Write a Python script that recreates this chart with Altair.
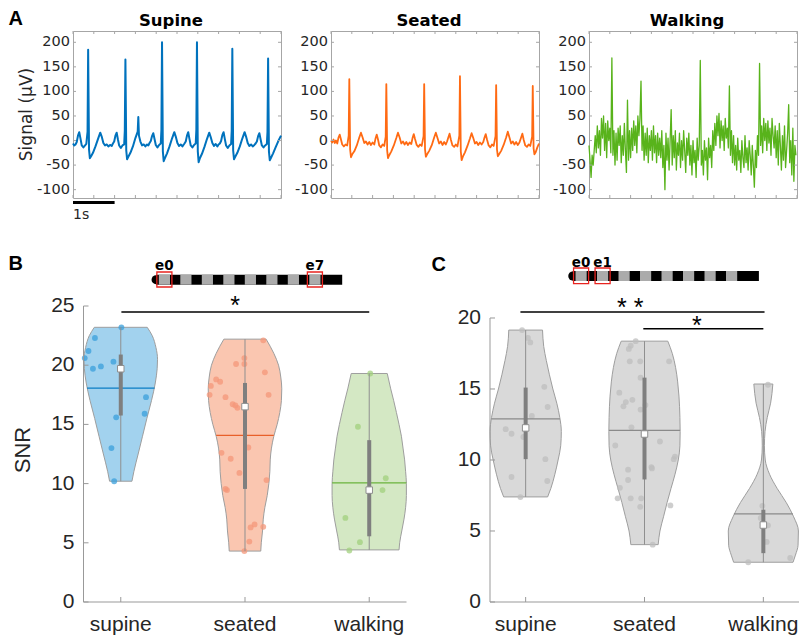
import altair as alt
import pandas as pd

FONT_A = "DejaVu Sans"
FONT_B = "Liberation Sans"
TXT = "#262626"
BOX = "#A6A6A6"
AX = "#999999"

# ---------------- Panel A : raw signals (time s, amplitude uV) ----------------
SIG_TITLES = ["Supine", "Seated", "Walking"]
SIG_COLORS = ["#0072BD", "#FF6A13", "#58B31B"]
SIG_YTICKS = [-100, -50, 0, 50, 100, 150, 200]
SIG_XTICKS = [0, 0.5, 1, 1.5, 2, 2.5, 3, 3.5, 4, 4.5, 5]
SIG_XDOM = [0, 5]
SIG_YDOM = [-117, 223]
SIG_YTITLE = "Signal (µV)"
SCALEBAR_S = [0, 1]
SCALEBAR_LABEL = "1s"

SUPINE_SIG = [
    (0.00, -6), (0.03, -10), (0.06, -8), (0.09, -3), (0.12, 10), (0.15, 17), (0.18, 4), (0.21, -10),
    (0.25, -14), (0.29, -10), (0.32, -7), (0.35, 18), (0.364, 185), (0.385, -18), (0.405, -36),
    (0.435, -32), (0.48, -25), (0.54, -12), (0.60, 3), (0.655, 16), (0.69, 8), (0.73, -5), (0.77, -10),
    (0.81, -8), (0.85, -12), (0.89, -9), (0.93, -11), (0.96, -6), (0.99, -2), (1.02, 10), (1.05, 16),
    (1.08, 2), (1.11, -10), (1.15, -15), (1.19, -10), (1.23, -8), (1.245, 20), (1.26, 165), (1.28, -20),
    (1.30, -38), (1.33, -33), (1.38, -25), (1.44, -12), (1.50, 5), (1.555, 18), (1.57, 48), (1.585, 10),
    (1.62, -2), (1.66, -10), (1.70, -8), (1.74, -12), (1.78, -8), (1.81, -10), (1.84, -5), (1.87, -1),
    (1.90, 9), (1.93, 15), (1.96, 3), (1.99, -9), (2.03, -14), (2.07, -9), (2.11, -6), (2.125, 22),
    (2.14, 200), (2.16, -22), (2.18, -42), (2.21, -36), (2.26, -26), (2.32, -12), (2.38, 4), (2.435, 17),
    (2.47, 8), (2.51, -5), (2.55, -11), (2.59, -8), (2.63, -12), (2.68, -6), (2.71, -2), (2.74, 10),
    (2.77, 17), (2.80, 3), (2.83, -10), (2.87, -14), (2.91, -9), (2.95, -6), (2.965, 22), (2.98, 200),
    (3.00, -22), (3.02, -44), (3.05, -36), (3.10, -27), (3.16, -13), (3.22, 3), (3.275, 16), (3.31, 7),
    (3.35, -5), (3.39, -11), (3.43, -7), (3.47, -12), (3.50, -8), (3.53, -6), (3.56, -1), (3.59, 11),
    (3.62, 17), (3.65, 3), (3.68, -10), (3.72, -15), (3.76, -10), (3.80, -7), (3.815, 20), (3.83, 187),
    (3.85, -20), (3.87, -38), (3.90, -33), (3.95, -25), (4.01, -12), (4.07, 4), (4.125, 17), (4.16, 8),
    (4.20, -5), (4.24, -11), (4.28, -8), (4.32, -12), (4.36, -9), (4.39, -6), (4.42, -2), (4.45, 9),
    (4.48, 15), (4.51, 2), (4.54, -10), (4.58, -14), (4.62, -10), (4.66, -7), (4.675, 18), (4.69, 167),
    (4.71, -22), (4.73, -40), (4.76, -35), (4.81, -26), (4.87, -14), (4.93, -2), (5.00, 10),
]

SEATED_SIG = [
    (0.00, 0), (0.03, -4), (0.06, 2), (0.09, -5), (0.12, 0), (0.15, -6), (0.18, 6), (0.21, 12),
    (0.24, 2), (0.27, -8), (0.31, -12), (0.35, -8), (0.39, -10), (0.425, 10), (0.44, 125), (0.46, -18),
    (0.48, -34), (0.51, -28), (0.56, -22), (0.62, -10), (0.68, 6), (0.72, 16), (0.76, 6), (0.80, -5),
    (0.84, -2), (0.88, -8), (0.92, -3), (0.96, -9), (1.00, -4), (1.04, -8), (1.07, 4), (1.10, 12),
    (1.13, 2), (1.16, -10), (1.20, -14), (1.24, -8), (1.28, -11), (1.315, 8), (1.33, 115), (1.35, -20),
    (1.37, -36), (1.40, -30), (1.45, -22), (1.51, -10), (1.57, 5), (1.61, 16), (1.65, 6), (1.69, -6),
    (1.73, -2), (1.77, -8), (1.81, -3), (1.85, -9), (1.89, -4), (1.93, -7), (1.96, 5), (1.99, 13),
    (2.02, 3), (2.06, -9), (2.10, -13), (2.14, -8), (2.18, -11), (2.225, 9), (2.24, 115), (2.26, -18),
    (2.28, -33), (2.31, -28), (2.36, -21), (2.42, -10), (2.48, 6), (2.52, 16), (2.56, 5), (2.60, -6),
    (2.64, -2), (2.68, -9), (2.72, -3), (2.76, -8), (2.79, -2), (2.82, 6), (2.85, 14), (2.88, 2),
    (2.92, -10), (2.96, -13), (3.00, -8), (3.04, -12), (3.085, 10), (3.10, 131), (3.12, -22), (3.14, -40),
    (3.17, -33), (3.22, -24), (3.28, -11), (3.34, 4), (3.38, 15), (3.42, 5), (3.46, -6), (3.50, -3),
    (3.54, -9), (3.58, -4), (3.62, -8), (3.66, -3), (3.69, 6), (3.72, 13), (3.75, 2), (3.79, -10),
    (3.83, -14), (3.87, -8), (3.91, -11), (3.955, 9), (3.97, 113), (3.99, -18), (4.01, -32), (4.04, -28),
    (4.09, -21), (4.15, -9), (4.21, 6), (4.25, 18), (4.29, 6), (4.33, -6), (4.37, -2), (4.41, -8),
    (4.45, -3), (4.49, -9), (4.53, -4), (4.57, 6), (4.60, 14), (4.63, 2), (4.67, -10), (4.71, -13),
    (4.75, -8), (4.79, -11), (4.835, 8), (4.85, 111), (4.87, -16), (4.89, -28), (4.92, -24), (4.96, -14),
    (5.00, -6),
]

WALK_DT = 0.025  # sampling step of the walking trace (s)
WALK_SIG = [
    -10, -40, -75, -30, -50, -20, 10, -25, 30, -15,
    20, -30, 45, 5, 50, -20, 35, -35, 40, 0,
    25, -25, 168, -30, 20, -50, 15, -40, 25, -10,
    30, -45, 10, -30, 35, -20, -65, 82, -40, 20,
    -35, 25, -20, 40, -10, 30, -25, 50, 10, 45,
    121, -20, 30, -40, 15, -30, 25, -45, 10, -20,
    20, -40, 30, -25, 10, -45, 15, -30, 5, -35,
    20, -55, -10, -100, 15, -40, 5, -60, 0, 63,
    -50, 10, -35, 20, -60, -5, -30, 15, -55, 0,
    -40, 20, -20, -65, 5, -30, 15, -50, -10, -70,
    0, -45, -20, -75, 5, -40, -10, 163, -50, -20,
    -70, 0, -40, -15, -80, 5, -35, -10, -55, 20,
    -20, 35, -10, 50, 10, 55, -15, 40, 0, 30,
    -20, 45, 5, 25, -15, 111, -30, 20, -45, 10,
    -50, -10, -60, 5, -40, -20, -65, 0, -35, -55,
    10, -45, -15, -60, 0, -30, -70, -10, -50, -95,
    -20, -55, 10, -30, 157, -10, 30, -25, 45, 0,
    35, -20, 40, -5, 25, -30, 45, 10, -15, 30,
    -35, 20, -50, 35, -10, -60, 10, -40, 30, -55,
    -20, 15, 73, -45, 0, -70, 25, -83, -10, -30,
]

# ---------------- Panels B / C : SNR violins ----------------
CATS = ["supine", "seated", "walking"]
CAT_XDOM = [0.7, 3.3]

B_YTICKS = [0, 5, 10, 15, 20, 25]
B_VIOLIN_Y = {
    "supine": [10.2, 11.0, 12.5, 14.0, 15.5, 17.0, 18.5, 19.7, 20.5, 21.5, 22.5, 23.2],
    "seated": [4.3, 5, 6, 7, 8, 9, 10, 11, 12, 13, 14, 15, 16, 17, 18, 19, 20, 21, 22.2],
    "walking": [4.4, 5, 6, 7, 8, 9, 10, 11, 12, 13, 14, 15, 16, 17, 18, 19.3],
}
B_VIOLIN_HW = {
    "supine": [0.09, 0.105, 0.14, 0.175, 0.21, 0.247, 0.278, 0.293, 0.296, 0.283, 0.253, 0.213],
    "seated": [0.127, 0.131, 0.141, 0.147, 0.16, 0.179, 0.192, 0.2, 0.203, 0.213, 0.232, 0.259,
               0.28, 0.293, 0.296, 0.288, 0.27, 0.232, 0.17],
    "walking": [0.24, 0.245, 0.262, 0.28, 0.293, 0.299, 0.299, 0.293, 0.285, 0.272, 0.259, 0.24,
                0.219, 0.197, 0.173, 0.145],
}
B_MEAN = [18.06, 14.08, 10.06]
B_MEAN_HW = [0.272, 0.232, 0.299]
B_MEDIAN = [19.7, 16.5, 9.45]
B_Q1 = [15.75, 9.55, 5.55]
B_Q3 = [20.9, 18.5, 13.67]
B_PTS = {
    "supine": [23.2, 22.3, 21.2, 20.6, 20.3, 19.9, 19.7, 17.3, 15.9, 15.6, 13.0, 10.2],
    "seated": [22.1, 20.6, 20.1, 20.1, 19.4, 18.8, 18.6, 18.25, 17.5, 17.5, 17.3, 16.7, 16.6, 16.4,
               13.05, 12.6, 12.1, 10.9, 10.3, 9.55, 9.45, 6.55, 6.35, 6.3, 5.1, 4.3],
    "walking": [19.3, 14.8, 10.45, 9.45, 7.1, 5.05, 4.35],
}
B_PTS_DX = {
    "supine": [0.005, -0.208, -0.26, -0.29, -0.059, -0.16, -0.224, 0.203, 0.192, -0.037, -0.075, -0.053],
    "seated": [0.147, -0.005, -0.072, -0.005, 0.16, -0.232, -0.2, -0.275, -0.285, 0.19, -0.157, -0.099,
               -0.077, -0.061, 0.027, -0.189, -0.115, -0.045, 0.173, -0.157, -0.145, 0.077, 0.147,
               0.045, 0.035, -0.005],
    "walking": [0.008, -0.091, 0.133, 0.107, -0.192, -0.075, -0.16],
}
B_SIG_X1, B_SIG_X2, B_SIG_Y = [1.005], [3.0], [24.49]
B_STAR_X, B_STAR_Y, B_STAR_T = [1.92], [25.04], ["*"]

C_YTICKS = [0, 5, 10, 15, 20]
C_VIOLIN_Y = {
    "supine": [7.4, 8, 9, 10, 11, 12, 13, 14, 15, 16, 17, 18, 19.15],
    "seated": [4.04, 5, 6, 7, 8, 9, 10, 11, 12, 13, 14.5, 15.5, 16.5, 17.5, 18.37],
    "walking": [2.8, 3.3, 4, 5, 6, 7, 8, 9, 10, 11, 12, 13, 14, 15.35],
}
C_VIOLIN_HW = {
    "supine": [0.185, 0.212, 0.246, 0.273, 0.295, 0.3, 0.287, 0.262, 0.229, 0.2, 0.174, 0.152, 0.142],
    "seated": [0.115, 0.13, 0.16, 0.19, 0.223, 0.257, 0.284, 0.298, 0.3, 0.298, 0.29, 0.279, 0.262,
               0.234, 0.196],
    "walking": [0.25, 0.27, 0.292, 0.295, 0.255, 0.193, 0.116, 0.052, 0.016, 0.009, 0.014, 0.033,
                0.061, 0.08],
}
C_MEAN = [12.9, 12.08, 6.2]
C_MEAN_HW = [0.288, 0.299, 0.248]
C_MEDIAN = [12.26, 11.83, 5.42]
C_Q1 = [10.06, 8.63, 3.44]
C_Q3 = [15.1, 15.8, 6.5]
C_PTS = {
    "supine": [19.15, 18.6, 18.28, 15.15, 13.73, 13.1, 12.17, 11.85, 11.62, 10.06, 8.8, 8.52, 7.39],
    "seated": [18.37, 18.05, 17.82, 16.95, 16.95, 16.95, 15.8, 14.74, 14.24, 14.08, 13.87, 13.78,
               13.55, 12.3, 11.3, 11.02, 10.24, 10.06, 9.5, 9.41, 9.32, 8.59, 8.04, 7.3, 7.3, 7.3,
               6.8, 6.7, 4.04],
    "walking": [15.3, 6.77, 5.92, 5.4, 4.23, 3.1, 2.8],
}
C_PTS_DX = {
    "supine": [-0.03, 0.019, 0.039, 0.157, 0.185, 0.052, -0.168, -0.119, -0.019, 0.166, -0.119, 0.182,
               -0.044],
    "seated": [-0.074, -0.116, -0.132, -0.124, -0.036, 0.207, -0.033, -0.212, -0.102, -0.157, 0.008,
               -0.177, -0.033, -0.11, 0.13, -0.246, 0.256, 0.246, 0.058, 0.063, -0.138, -0.138,
               -0.207, -0.226, -0.116, -0.028, 0.218, -0.036, 0.069],
    "walking": [0.039, -0.008, -0.022, 0.039, 0.028, 0.226, -0.127],
}
C_SIG_X1, C_SIG_X2, C_SIG_Y = [0.956, 1.99], [3.01, 3.0], [20.42, 19.25]
C_STAR_X, C_STAR_Y, C_STAR_T = [1.88, 2.44], [20.69, 19.45], ["* *", "*"]

# electrode array schematic (electrode units)
ELECTRODES = [0, 1, 2, 3, 4, 5, 6, 7]
B_SELECTED = [0, 7]
C_SELECTED = [0, 1]
E_GRAY = 0.52
BAR_START, BAR_END = -0.13, 8.53

# ---------------- layout / style ----------------
SIG_W, SIG_H, SIG_GAP = 208, 167, 50
B_W, C_W, BC_H, BC_GAP = 323, 309, 296, 83
B_LPAD = 10.5        # panel B axis sits this far right of panel A's left edge
ROW_GAP = 30
E_PITCH = 21.5

B_FILLS = ["#A2D2EE", "#FAC6B0", "#D4E8C4"]
B_PCOLS = ["#3A9FDB", "#F4977A", "#A2D07E"]
B_MCOLS = ["#0A7CC4", "#E8602A", "#6AB33C"]
C_FILLS = ["#D9D9D9"] * 3
C_PCOLS = ["#BDBDBD"] * 3
C_MCOLS = ["#8A8A8A"] * 3
OUTLINE = "#9E9E9E"
WHISK = "#8F8F8F"
BOXC = "#7F7F7F"


def text_layer(s, x, y, font=FONT_B, size=20, weight="bold", align="left", baseline="alphabetic",
               angle=0, color="black"):
    return alt.Chart(pd.DataFrame({"s": [s]})).mark_text(
        font=font, fontSize=size, fontWeight=weight, align=align, baseline=baseline, angle=angle, color=color
    ).encode(x=alt.value(x), y=alt.value(y), text="s:N")


def signal_panel(df, color, title, sw, first):
    xs = alt.Scale(domain=SIG_XDOM, nice=False, zero=False)
    ys = alt.Scale(domain=SIG_YDOM, nice=False, zero=False)
    X = alt.X("t:Q", scale=xs, axis=None)
    Y = alt.Y("v:Q", scale=ys, axis=None)
    line = alt.Chart(df).mark_line(color=color, strokeWidth=sw, strokeJoin="round").encode(x=X, y=Y)
    xt = pd.DataFrame({"t": SIG_XTICKS})
    yt = pd.DataFrame({"v": SIG_YTICKS, "lab": [str(v) for v in SIG_YTICKS]})
    layers = [
        line,
        alt.Chart(xt).mark_rule(color=BOX).encode(x=X, y=alt.value(0), y2=alt.value(3)),
        alt.Chart(xt).mark_rule(color=BOX).encode(x=X, y=alt.value(SIG_H), y2=alt.value(SIG_H - 3)),
        alt.Chart(yt).mark_rule(color=BOX).encode(y=Y, x=alt.value(0), x2=alt.value(3)),
        alt.Chart(yt).mark_rule(color=BOX).encode(y=Y, x=alt.value(SIG_W - 3), x2=alt.value(SIG_W)),
        alt.Chart(yt).mark_text(font=FONT_A, fontSize=14.5, align="right", baseline="middle", color=TXT).encode(
            y=Y, x=alt.value(-3), text="lab:N"),
        text_layer(title, SIG_W / 2 - 6, -5.3, font=FONT_A, size=16.5, align="center"),
    ]
    if first:
        sb = pd.DataFrame({"t": [SCALEBAR_S[0]], "t2": [SCALEBAR_S[1]], "s": [SCALEBAR_LABEL]})
        layers.append(alt.Chart(sb).mark_rule(color="black", strokeWidth=3).encode(
            x=X, x2="t2:Q", y=alt.value(SIG_H + 4.5)))
        layers.append(alt.Chart(sb).mark_text(font=FONT_A, fontSize=14, align="left", baseline="alphabetic",
                                              color=TXT).encode(x=X, y=alt.value(SIG_H + 20.6), text="s:N"))
        layers.append(text_layer(SIG_YTITLE, -41.5, SIG_H / 2, font=FONT_A, size=17, weight="normal",
                                 align="center", angle=270, color=TXT))
        layers.append(text_layer("A", -64.5, -22, baseline="top"))
    return alt.layer(*layers).properties(
        width=SIG_W, height=SIG_H, view=alt.ViewBackground(stroke=BOX, strokeWidth=1))


def diagram(selected, off, bar_c, box_top, box_bot, lab_y, W):
    xs = alt.Scale(domain=[-off / E_PITCH, (W - off) / E_PITCH], nice=False, zero=False)

    def X(f):
        return alt.X(f, scale=xs, axis=None)

    bar = alt.Chart(pd.DataFrame({"u0": [BAR_START], "u1": [BAR_END]})).mark_rect(color="black").encode(
        x=X("u0:Q"), x2="u1:Q", y=alt.value(bar_c - 5), y2=alt.value(bar_c + 5))
    cap = alt.Chart(pd.DataFrame({"u0": [BAR_START]})).mark_circle(color="black", size=80, opacity=1).encode(
        x=X("u0:Q"), y=alt.value(bar_c))
    seg = alt.Chart(pd.DataFrame({"u0": ELECTRODES, "u1": [e + E_GRAY for e in ELECTRODES]})).mark_rect(
        color="#ABABAB").encode(x=X("u0:Q"), x2="u1:Q", y=alt.value(bar_c - 5), y2=alt.value(bar_c + 5))
    box = alt.Chart(pd.DataFrame({"u0": [s - 0.09 for s in selected],
                                  "u1": [s + E_GRAY + 0.09 for s in selected]})).mark_rect(
        fillOpacity=0, stroke="#E8231F", strokeWidth=1.3).encode(
        x=X("u0:Q"), x2="u1:Q", y=alt.value(box_top), y2=alt.value(box_bot))
    lab = alt.Chart(pd.DataFrame({"u": [s + E_GRAY / 2 for s in selected],
                                  "t": [f"e{s}" for s in selected]})).mark_text(
        font=FONT_A, fontWeight="bold", fontSize=13.5, baseline="alphabetic", align="center", color="black"
    ).encode(x=X("u:Q"), y=alt.value(lab_y), text="t:N")
    return alt.layer(bar, cap, seg, box, lab)


def violin_panel(vy, vhw, mean, mean_hw, median, q1, q3, pts, pdx, fills, pcols, mcols,
                 ytop_dom, yticks, ytitle, sig, stars, letter, W, H, diag_args, lpad=0.0):
    # lpad: empty pixels left of the axis line inside the panel (x domain extended accordingly)
    units_per_px = (CAT_XDOM[1] - CAT_XDOM[0]) / W
    xs = alt.Scale(domain=[CAT_XDOM[0] - lpad * units_per_px, CAT_XDOM[1]], nice=False, zero=False)
    ys = alt.Scale(domain=[0, ytop_dom], nice=False, zero=False)

    def X(f):
        return alt.X(f, scale=xs, axis=None)

    def Y(f):
        return alt.Y(f, scale=ys, axis=None)

    vrows, prows = [], []
    for i, g in enumerate(CATS):
        for y, hw in zip(vy[g], vhw[g]):
            vrows.append({"g": g, "y": y, "xlo": i + 1 - hw, "xhi": i + 1 + hw, "fill": fills[i]})
        for v, dx in zip(pts[g], pdx[g]):
            prows.append({"g": g, "v": v, "px": i + 1 + dx, "c": pcols[i]})
    vdf = pd.DataFrame(vrows)
    pdf = pd.DataFrame(prows)
    sdf = pd.DataFrame({
        "cat": [1, 2, 3], "name": CATS, "mean": mean,
        "mlo": [i + 1 - h for i, h in enumerate(mean_hw)], "mhi": [i + 1 + h for i, h in enumerate(mean_hw)],
        "median": median, "q1": q1, "q3": q3,
        "lo": [vy[g][0] for g in CATS], "hi": [vy[g][-1] for g in CATS], "mc": mcols,
    })
    ytdf = pd.DataFrame({"t": yticks, "lab": [str(v) for v in yticks]})

    area = alt.Chart(vdf).mark_area(orient="horizontal", interpolate="monotone", stroke=OUTLINE,
                                    strokeWidth=1, fillOpacity=1).encode(
        y=Y("y:Q"),
        x=alt.X("xlo:Q", scale=xs, axis=None, stack=None),
        x2="xhi:Q",
        fill=alt.Fill("fill:N", scale=None),
        detail="g:N",
    )
    points = alt.Chart(pdf).mark_circle(size=34, opacity=0.75).encode(
        x=X("px:Q"), y=Y("v:Q"), color=alt.Color("c:N", scale=None))
    means = alt.Chart(sdf).mark_rule(strokeWidth=1.3).encode(
        x=X("mlo:Q"), x2="mhi:Q", y=Y("mean:Q"), color=alt.Color("mc:N", scale=None))
    whisk = alt.Chart(sdf).mark_rule(color=WHISK, strokeWidth=1).encode(x=X("cat:Q"), y=Y("lo:Q"), y2="hi:Q")
    box = alt.Chart(sdf).mark_rule(color=BOXC, strokeWidth=4).encode(x=X("cat:Q"), y=Y("q1:Q"), y2="q3:Q")
    med = alt.Chart(sdf).mark_square(size=42, filled=True, fill="white", stroke=WHISK, strokeWidth=1,
                                     opacity=1).encode(x=X("cat:Q"), y=Y("median:Q"))
    sigdf = pd.DataFrame({"x1": sig[0], "x2": sig[1], "y": sig[2]})
    sigl = alt.Chart(sigdf).mark_rule(color="black", strokeWidth=1.5).encode(x=X("x1:Q"), x2="x2:Q", y=Y("y:Q"))
    stdf = pd.DataFrame({"x": stars[0], "y": stars[1], "s": stars[2]})
    st = alt.Chart(stdf).mark_text(font=FONT_B, fontSize=25, baseline="middle", align="center",
                                   color="black").encode(x=X("x:Q"), y=Y("y:Q"), text="s:N")
    # axes drawn from the tick arrays
    yline = alt.Chart(pd.DataFrame({"a": [yticks[0]], "b": [yticks[-1]]})).mark_rule(color=AX).encode(
        x=alt.value(lpad), y=Y("a:Q"), y2="b:Q")
    xline = alt.Chart(pd.DataFrame({"a": [CAT_XDOM[0]], "b": [CAT_XDOM[1]]})).mark_rule(color=AX).encode(
        x=X("a:Q"), x2="b:Q", y=alt.value(H))
    xt = alt.Chart(sdf).mark_rule(color=AX).encode(x=X("cat:Q"), y=alt.value(H), y2=alt.value(H - 5))
    yt = alt.Chart(ytdf).mark_rule(color=AX).encode(y=Y("t:Q"), x=alt.value(lpad), x2=alt.value(lpad + 5))
    ylab = alt.Chart(ytdf).mark_text(font=FONT_B, fontSize=21, align="right", baseline="middle",
                                     color=TXT).encode(y=Y("t:Q"), x=alt.value(lpad - 9), text="lab:N")
    xlab = alt.Chart(sdf).mark_text(font=FONT_B, fontSize=21, align="center", baseline="alphabetic",
                                    color=TXT).encode(x=X("cat:Q"), y=alt.value(H + 28.5), text="name:N")
    layers = [area, points, means, whisk, box, med, sigl, st, yline, xline, xt, yt, ylab, xlab,
              text_layer(letter[0], lpad + letter[1], letter[2])]
    if ytitle:
        layers.append(text_layer(ytitle, lpad - 54, H / 2 - 4, size=22, weight="normal", align="center",
                                 angle=270, color=TXT))
    main = alt.layer(*layers)
    sel, off, bar_c, box_top, box_bot, lab_y = diag_args
    diag = diagram(sel, off + lpad, bar_c, box_top, box_bot, lab_y, W + lpad)
    return alt.layer(main, diag).resolve_scale(x="independent", y="independent").properties(
        width=W + lpad, height=H, view=alt.ViewBackground(stroke="transparent"))


sig_frames = [
    pd.DataFrame(SUPINE_SIG, columns=["t", "v"]),
    pd.DataFrame(SEATED_SIG, columns=["t", "v"]),
    pd.DataFrame({"t": [i * WALK_DT for i in range(len(WALK_SIG))], "v": WALK_SIG}),
]
widths = [2.0, 1.8, 1.3]
row_a = alt.hconcat(
    *[signal_panel(sig_frames[i], SIG_COLORS[i], SIG_TITLES[i], widths[i], i == 0) for i in range(3)],
    spacing=SIG_GAP, bounds="flush",
)

panel_b = violin_panel(
    B_VIOLIN_Y, B_VIOLIN_HW, B_MEAN, B_MEAN_HW, B_MEDIAN, B_Q1, B_Q3, B_PTS, B_PTS_DX,
    B_FILLS, B_PCOLS, B_MCOLS, 25, B_YTICKS, "SNR",
    (B_SIG_X1, B_SIG_X2, B_SIG_Y), (B_STAR_X, B_STAR_Y, B_STAR_T), ("B", -75, -35.7), B_W, BC_H,
    (B_SELECTED, 75.3, -26.3, -34, -19, -36), lpad=B_LPAD,
)
panel_c = violin_panel(
    C_VIOLIN_Y, C_VIOLIN_HW, C_MEAN, C_MEAN_HW, C_MEDIAN, C_Q1, C_Q3, C_PTS, C_PTS_DX,
    C_FILLS, C_PCOLS, C_MCOLS, 20.845, C_YTICKS, "",
    (C_SIG_X1, C_SIG_X2, C_SIG_Y), (C_STAR_X, C_STAR_Y, C_STAR_T), ("C", -58.5, -34.7), C_W, BC_H,
    (C_SELECTED, 85.5, -30, -38, -22.3, -39.5),
)
row_b = alt.hconcat(panel_b, panel_c, spacing=BC_GAP, bounds="flush")

chart = alt.vconcat(row_a, row_b, spacing=ROW_GAP, padding=0).configure_view(stroke="transparent")
chart.save("out.html", embed_options={"renderer": "svg", "actions": False})
